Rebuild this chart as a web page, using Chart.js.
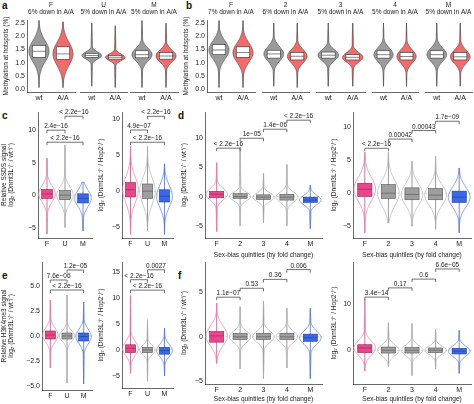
<!DOCTYPE html>
<html>
<head>
<meta charset="utf-8">
<script src="https://cdn.jsdelivr.net/npm/chart.js@4"></script>
<style>
  body { margin: 0; background: #fff; width: 474px; height: 404px; position: relative; overflow: hidden; font-family: 'Liberation Sans', Arial, sans-serif; }
  canvas { position: absolute; }
  .tag { position: absolute; font-weight: bold; font-size: 10px; color: #111; }
</style>
</head>
<body>
<div class="tag" style="left:2px;top:0px">a</div>
<div class="tag" style="left:186px;top:0px">b</div>
<div class="tag" style="left:2px;top:110px">c</div>
<div class="tag" style="left:178px;top:110px">d</div>
<div class="tag" style="left:2px;top:270px">e</div>
<div class="tag" style="left:178px;top:270px">f</div>
<script>
// stats are [low, q1, median, q3, high]
const groups = ['wt', 'A/A'];
const aFacets = ['F', 'U', 'M'];
const aNotes = ['6% down in A/A', '5% down in A/A', '5% down in A/A'];
const aStats = [
  [[0.05, 1.2, 1.43, 1.65, 2.6], [0.05, 1.12, 1.33, 1.6, 2.55]],
  [[0.1, 1.2, 1.27, 1.35, 2.5], [0.05, 1.13, 1.2, 1.27, 2.4]],
  [[0.05, 1.18, 1.3, 1.45, 2.6], [0.05, 1.13, 1.25, 1.38, 2.5]]
];
const bFacets = ['F', '2', '3', '4', 'M'];
const bNotes = ['7% down in A/A', '6% down in A/A', '5% down in A/A', '5% down in A/A', '5% down in A/A'];
const bStats = [
  [[0.05, 1.3, 1.48, 1.68, 2.6], [0.05, 1.2, 1.38, 1.6, 2.6]],
  [[0.1, 1.17, 1.33, 1.47, 2.5], [0.05, 1.1, 1.24, 1.38, 2.5]],
  [[0.1, 1.17, 1.28, 1.4, 2.5], [0.1, 1.1, 1.2, 1.3, 2.5]],
  [[0.1, 1.17, 1.3, 1.45, 2.5], [0.1, 1.1, 1.23, 1.38, 2.5]],
  [[0.1, 1.17, 1.3, 1.45, 2.5], [0.1, 1.1, 1.22, 1.38, 2.5]]
];
const methTicks = [0, 0.5, 1, 1.5, 2, 2.5];

const fumCats = ['F', 'U', 'M'];
const quintCats = ['F', '2', '3', '4', 'M'];
const cSsds = [[-6, -0.5, 0.2, 0.9, 5.7], [-5, -0.7, 0, 0.7, 7.7], [-5.5, -1.2, -0.5, 0.2, 2]];
const cHop2 = [[-6, -0.8, 0.2, 1.2, 6.2], [-5.5, -1, 0, 1, 6.2], [-6, -1.5, -0.7, 0.2, 3.8]];
const dSsds = [[-6, -0.2, 0.4, 0.9, 5.8], [-5, -0.3, 0, 0.5, 8.5], [-4.5, -0.5, -0.1, 0.3, 4], [-5, -0.6, -0.1, 0.4, 5.5], [-5.5, -1, -0.6, -0.1, 2]];
const dHop2 = [[-6, -0.5, 0.6, 1.5, 6.2], [-4.5, -0.8, 0, 1.3, 6.2], [-5, -1, -0.2, 0.8, 4.8], [-5.5, -1, -0.3, 0.7, 5.6], [-6, -1.4, -0.6, 0.3, 3.8]];
const eH3k4 = [[-3.2, -0.3, 0.1, 0.5, 3.6], [-4.7, -0.3, 0, 0.3, 4.1], [-4.8, -0.5, -0.05, 0.3, 3.4]];
const eHop2 = [[-4.5, -0.5, 0.3, 1, 10.5], [-6, -0.5, 0, 0.5, 5.8], [-5, -0.8, -0.1, 0.5, 4.2]];
const fH3k4 = [[-3, -0.6, 0.1, 0.6, 3.8], [-3.6, -0.3, 0, 0.4, 3.4], [-4.7, -0.3, 0, 0.4, 4], [-3.5, -0.3, 0, 0.4, 3.2], [-4.7, -0.5, -0.1, 0.3, 3.2]];
const fHop2 = [[-4.5, -0.5, 0.5, 1.2, 11], [-3.5, -0.6, 0, 0.7, 6], [-5.5, -0.6, 0, 0.6, 5.8], [-4, -0.5, 0, 0.5, 4.5], [-5, -0.8, -0.2, 0.4, 4.3]];

// brackets: [label, from, to, y]
const cSsdsP = [['< 2.2e\u221216', 1, 2, 12.15], ['2.4e\u221216', 0, 1, 10], ['< 2.2e\u221216', 0, 2, 8.15]];
const cHop2P = [['< 2.2e\u221216', 1, 2, 10.4], ['4.9e\u221207', 0, 1, 8.5], ['< 2.2e\u221216', 0, 2, 6.8]];
const dSsdsP = [['< 2.2e\u221216', 3, 4, 13.1], ['1.4e\u221206', 2, 3, 11.55], ['1e\u221205', 1, 2, 10], ['< 2.2e\u221216', 0, 1, 8.3]];
const dHop2P = [['1.7e\u221209', 3, 4, 10.9], ['0.00043', 2, 3, 9.5], ['0.00042', 1, 2, 8.2], ['< 2.2e\u221216', 0, 1, 6.8]];
const eH3k4P = [['1.2e\u221205', 1, 2, 6.6], ['7.6e\u221206', 0, 1, 5.6], ['< 2.2e\u221216', 0, 2, 4.6]];
const eHop2P = [['0.0027', 1, 2, 15.4], ['< 2.2e\u221216', 0, 1, 13.5], ['< 2.2e\u221216', 0, 2, 11.5]];
const fH3k4P = [['0.006', 3, 4, 7.55], ['0.36', 2, 3, 6.45], ['0.53', 1, 2, 5.45], ['1.1e\u221207', 0, 1, 4.45]];
const fHop2P = [['6.6e\u221205', 3, 4, 17.6], ['0.6', 2, 3, 15.4], ['0.17', 1, 2, 13.5], ['3.4e\u221214', 0, 1, 11.5]];

const ylabWt = 'log\u2082 (Dnmt3L\u207B/\u207B / wt\u207A/\u207B)';
const ylabHop2 = 'log\u2082 (Dnmt3L\u207B/\u207B / Hop2\u207B/\u207B)';
const xTitleQ = 'Sex-bias quintiles (by fold change)';

const FONT = "'Liberation Sans', Arial, sans-serif";
const catColors = {
  F: ['#e8488a', '#e57ba8', '#9c1f55'],
  U: ['#9e9e9e', '#b0b0b0', '#555'],
  M: ['#3b68e6', '#5577d8', '#1c3a9a'],
  mid: ['#9e9e9e', '#b0b0b0', '#555']
};

function violinPath(ctx, xs, ys, cx, st, w) {
  const [lo, q1, med, q3, hi] = st;
  const s = Math.max((q3 - q1) * 0.9, 0.05);
  const unit = Math.abs(xs.getPixelForValue(1) - xs.getPixelForValue(0));
  const pts = [];
  const n = 70;
  for (let k = 0; k <= n; k++) {
    const y = lo + (hi - lo) * k / n;
    const span = y > med ? hi - med : med - lo;
    const r = span > 0 ? Math.abs(y - med) / span : 0;
    const g = Math.exp(-0.5 * ((y - med) / s) ** 2);
    const tail = 0.07 * (1 - r * r);
    pts.push([ys.getPixelForValue(y), w * unit * Math.max(g, tail)]);
  }
  ctx.beginPath();
  pts.forEach(([py, hw], i) => i ? ctx.lineTo(cx + hw, py) : ctx.moveTo(cx + hw, py));
  for (let i = pts.length - 1; i >= 0; i--) ctx.lineTo(cx - pts[i][1], pts[i][0]);
  ctx.closePath();
}

const drawPlugin = {
  id: 'violins',
  afterDatasetsDraw(chart) {
    const o = chart.options.plugins.violins;
    const ctx = chart.ctx, xs = chart.scales.x, ys = chart.scales.y, a = chart.chartArea;
    ctx.save();
    if (o.zero) {
      ctx.setLineDash([2, 2]);
      ctx.strokeStyle = '#c8c8c8';
      ctx.lineWidth = 0.7;
      ctx.beginPath();
      ctx.moveTo(a.left, ys.getPixelForValue(0));
      ctx.lineTo(a.right, ys.getPixelForValue(0));
      ctx.stroke();
      ctx.setLineDash([]);
    }
    o.stats.forEach((st, i) => {
      const cx = xs.getPixelForValue(i);
      const unit = Math.abs(xs.getPixelForValue(1) - xs.getPixelForValue(0));
      const [lo, q1, med, q3, hi] = st;
      if (o.mode === 'filled') {
        const fill = i === 0 ? '#9b9b9b' : '#f26b6b';
        ctx.strokeStyle = '#4a4a4a';
        ctx.lineWidth = 0.6;
        ctx.beginPath();
        ctx.moveTo(cx, ys.getPixelForValue(lo));
        ctx.lineTo(cx, ys.getPixelForValue(hi));
        ctx.stroke();
        violinPath(ctx, xs, ys, cx, st, 0.42);
        ctx.fillStyle = fill;
        ctx.fill();
        ctx.stroke();
        const bw = 0.28 * unit;
        ctx.fillStyle = '#fff';
        ctx.strokeStyle = '#333';
        ctx.fillRect(cx - bw, ys.getPixelForValue(q3), 2 * bw, ys.getPixelForValue(q1) - ys.getPixelForValue(q3));
        ctx.strokeRect(cx - bw, ys.getPixelForValue(q3), 2 * bw, ys.getPixelForValue(q1) - ys.getPixelForValue(q3));
        ctx.beginPath();
        ctx.moveTo(cx - bw, ys.getPixelForValue(med));
        ctx.lineTo(cx + bw, ys.getPixelForValue(med));
        ctx.stroke();
      } else {
        const lab = o.cats[i];
        const col = catColors[lab] || catColors.mid;
        ctx.strokeStyle = col[2];
        ctx.lineWidth = 0.6;
        ctx.beginPath();
        ctx.moveTo(cx, ys.getPixelForValue(lo));
        ctx.lineTo(cx, ys.getPixelForValue(hi));
        ctx.stroke();
        violinPath(ctx, xs, ys, cx, st, 0.46);
        ctx.strokeStyle = col[1];
        ctx.lineWidth = 0.7;
        ctx.stroke();
        const bw = 0.3 * unit;
        ctx.fillStyle = col[0];
        ctx.fillRect(cx - bw, ys.getPixelForValue(q3), 2 * bw, ys.getPixelForValue(q1) - ys.getPixelForValue(q3));
        ctx.strokeStyle = col[2];
        ctx.lineWidth = 0.6;
        ctx.strokeRect(cx - bw, ys.getPixelForValue(q3), 2 * bw, ys.getPixelForValue(q1) - ys.getPixelForValue(q3));
        ctx.beginPath();
        ctx.moveTo(cx - bw, ys.getPixelForValue(med));
        ctx.lineTo(cx + bw, ys.getPixelForValue(med));
        ctx.stroke();
      }
    });
    ctx.fillStyle = '#222';
    ctx.strokeStyle = '#333';
    ctx.lineWidth = 0.7;
    ctx.font = '6.5px ' + FONT;
    ctx.textAlign = 'center';
    (o.brackets || []).forEach(([txt, i, j, y]) => {
      const x1 = xs.getPixelForValue(i), x2 = xs.getPixelForValue(j), py = ys.getPixelForValue(y);
      ctx.beginPath();
      ctx.moveTo(x1, py + 3); ctx.lineTo(x1, py); ctx.lineTo(x2, py); ctx.lineTo(x2, py + 3);
      ctx.stroke();
      ctx.textBaseline = 'bottom';
      ctx.fillText(txt, (x1 + x2) / 2, py - 0.5);
    });
    if (o.title) {
      ctx.textBaseline = 'top';
      const mx = (a.left + a.right) / 2;
      ctx.fillText(o.title[0], mx, 2);
      ctx.fillText(o.title[1], mx, 9);
    }
    ctx.restore();
  }
};

function panel(p) {
  const yw = p.yw, padTop = p.padTop;
  const cv = document.createElement('canvas');
  const W = yw + (p.x1 - p.x0) + 2, H = padTop + (p.y1 - p.y0) + p.xh;
  cv.width = W; cv.height = H;
  cv.style.left = (p.x0 - yw) + 'px';
  cv.style.top = (p.y0 - padTop) + 'px';
  cv.style.width = W + 'px'; cv.style.height = H + 'px';
  document.body.appendChild(cv);
  const n = p.cats.length;
  new Chart(cv, {
    type: 'scatter',
    data: { datasets: [{ data: p.stats.map((s, i) => ({ x: i, y: s[2] })), pointRadius: 0 }] },
    options: {
      responsive: false, animation: false,
      layout: { padding: { top: padTop, right: 2, left: 0, bottom: 0 } },
      plugins: {
        legend: { display: false }, tooltip: { enabled: false },
        violins: { stats: p.stats, cats: p.cats, mode: p.mode, zero: p.mode !== 'filled', brackets: p.brackets, title: p.title }
      },
      scales: {
        x: {
          type: 'linear', min: -0.5, max: n - 0.5,
          afterBuildTicks: s => { s.ticks = p.cats.map((c, i) => ({ value: i })); },
          afterFit: s => { s.height = p.xh; },
          ticks: { callback: v => p.cats[v], font: { size: 7, family: FONT }, color: '#222', padding: 2, maxRotation: 0, autoSkip: false },
          grid: { display: false, drawTicks: false },
          border: { display: true, color: '#444', width: 0.8 },
          title: { display: !!p.xTitle, text: p.xTitle || '', font: { size: 6.5, family: FONT }, color: '#222', padding: 1 }
        },
        y: {
          display: yw > 0,
          min: p.ymin, max: p.ymax,
          afterBuildTicks: s => { s.ticks = p.yticks.map(v => ({ value: v })); },
          afterFit: s => { s.width = yw; },
          ticks: { callback: v => (p.fmt ? v.toFixed(p.fmt) : String(v)).replace('-', '\u2212'), font: { size: 7, family: FONT }, color: '#222', padding: 2 },
          grid: { display: false, drawTicks: false },
          border: { display: true, color: '#444', width: 0.8 },
          title: { display: !!p.yTitle, text: p.yTitle || '', font: { size: 6.5, family: FONT }, color: '#222', padding: 0 }
        }
      }
    },
    plugins: [drawPlugin]
  });
}

// a and b facets
const aX = [[27, 75], [80, 127], [130, 178]];
aFacets.forEach((f, k) => panel({
  x0: aX[k][0], x1: aX[k][1], y0: 20, y1: 92, padTop: 20, yw: k ? 0 : 25, xh: 14,
  ymin: -0.12, ymax: 2.62, yticks: methTicks, fmt: 1, cats: groups, stats: aStats[k], mode: 'filled',
  title: [f, aNotes[k]], yTitle: k ? null : 'Methylation at hotspots (%)'
}));
const bX = [[207, 255], [262, 309], [316, 365], [372, 418], [425, 472]];
bFacets.forEach((f, k) => panel({
  x0: bX[k][0], x1: bX[k][1], y0: 20, y1: 92, padTop: 20, yw: k ? 0 : 25, xh: 14,
  ymin: -0.12, ymax: 2.62, yticks: methTicks, fmt: 1, cats: groups, stats: bStats[k], mode: 'filled',
  title: [f, bNotes[k]], yTitle: k ? null : 'Methylation at hotspots (%)'
}));

// c, d
panel({ x0: 38, x1: 92, y0: 112, y1: 238, padTop: 8, yw: 38, xh: 14, ymin: -6.6, ymax: 12.8, yticks: [-5, 0, 5, 10],
  cats: fumCats, stats: cSsds, brackets: cSsdsP, yTitle: ['Relative SSDS signal', ylabWt] });
panel({ x0: 122, x1: 173, y0: 112, y1: 238, padTop: 8, yw: 25, xh: 14, ymin: -6.5, ymax: 11, yticks: [-5, 0, 5, 10],
  cats: fumCats, stats: cHop2, brackets: cHop2P, yTitle: ylabHop2 });
panel({ x0: 205, x1: 322, y0: 112, y1: 238, padTop: 8, yw: 25, xh: 22, ymin: -7.1, ymax: 14.5, yticks: [-5, 0, 5, 10],
  cats: quintCats, stats: dSsds, brackets: dSsdsP, yTitle: ylabWt, xTitle: xTitleQ });
panel({ x0: 353, x1: 471, y0: 112, y1: 238, padTop: 8, yw: 23, xh: 22, ymin: -6.8, ymax: 12.3, yticks: [-5, 0, 5, 10],
  cats: quintCats, stats: dHop2, brackets: dHop2P, yTitle: ylabHop2, xTitle: xTitleQ });

// e, f
panel({ x0: 42, x1: 92, y0: 262, y1: 390, padTop: 8, yw: 42, xh: 14, ymin: -5.4, ymax: 7.4, yticks: [-5, -2.5, 0, 2.5, 5], fmt: 1,
  cats: fumCats, stats: eH3k4, brackets: eH3k4P, yTitle: ['Relative H3K4me3 signal', ylabWt] });
panel({ x0: 122, x1: 173, y0: 262, y1: 388, padTop: 8, yw: 25, xh: 14, ymin: -7.3, ymax: 16.9, yticks: [-5, 0, 5, 10, 15],
  cats: fumCats, stats: eHop2, brackets: eHop2P, yTitle: ylabHop2 });
panel({ x0: 205, x1: 322, y0: 262, y1: 384, padTop: 8, yw: 25, xh: 20, ymin: -5.3, ymax: 8.4, yticks: [-5, 0, 5],
  cats: quintCats, stats: fH3k4, brackets: fH3k4P, yTitle: ylabWt, xTitle: xTitleQ });
panel({ x0: 353, x1: 471, y0: 262, y1: 384, padTop: 8, yw: 23, xh: 20, ymin: -7.3, ymax: 19.1, yticks: [0, 10],
  cats: quintCats, stats: fHop2, brackets: fHop2P, yTitle: ylabHop2, xTitle: xTitleQ });
</script>
</body>
</html>
